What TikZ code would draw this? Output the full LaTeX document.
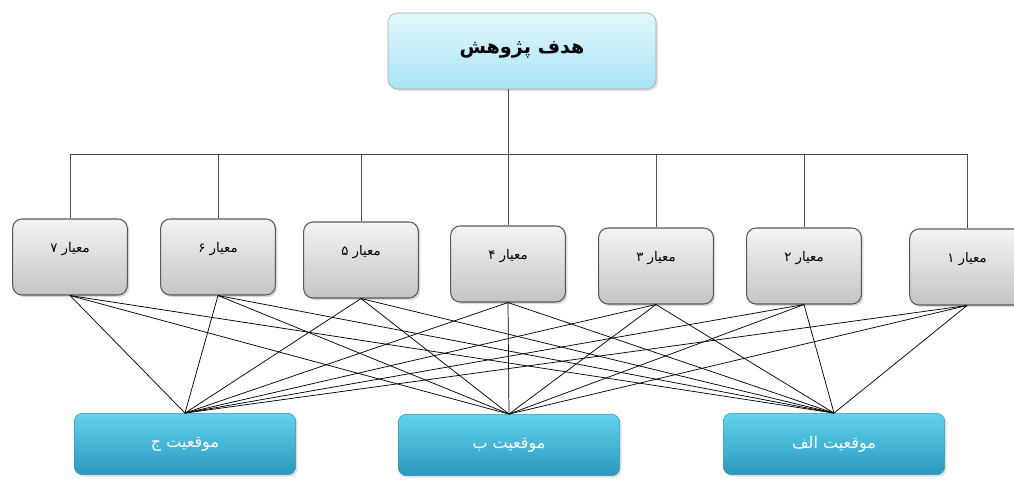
\documentclass[tikz,border=0pt]{standalone}
\usepackage{fontspec}
\newfontfamily\farsi[Script=Arabic]{DejaVu Sans}
\TeXXeTstate=1
\usetikzlibrary{shadows}
\definecolor{goalhi}{HTML}{E2F7FC}
\definecolor{goallo}{HTML}{A9E4F5}
\definecolor{crithi}{HTML}{F4F4F4}
\definecolor{critlo}{HTML}{C4C4C4}
\definecolor{opthi}{HTML}{62D3EE}
\definecolor{optlo}{HTML}{2A98BE}
\newcommand{\fatext}[1]{\farsi\beginR #1\endR}
\tikzset{
  goalbox/.style={draw=gray!70, rounded corners=7pt, top color=goalhi, bottom color=goallo,
    minimum width=201pt, minimum height=57pt, text height=12pt, text depth=8pt, font=\farsi\bfseries\Large,
    drop shadow={opacity=0.25, shadow xshift=1.5pt, shadow yshift=-1.5pt}},
  critbox/.style={draw=black!65, line width=0.8pt, rounded corners=7pt, top color=crithi, bottom color=critlo,
    minimum width=86pt, minimum height=57pt, text height=10pt, text depth=17pt, font=\farsi,
    drop shadow={opacity=0.3, shadow xshift=1.5pt, shadow yshift=-1.5pt}},
  optbox/.style={draw=optlo, rounded corners=6pt, top color=opthi, bottom color=optlo,
    minimum width=166pt, minimum height=46pt, text=white, font=\farsi\large,
    drop shadow={opacity=0.25, shadow xshift=1.5pt, shadow yshift=-1.5pt}},
  tree/.style={draw=black!70, line width=0.7pt},
  link/.style={draw=black, line width=0.55pt}
}
\begin{document}
\begin{tikzpicture}[x=0.75pt,y=0.75pt,yscale=-1,xscale=1]
    \useasboundingbox (0,0) rectangle (1014,485);

    % goal
    \node [goalbox] (goal) at (522,51) {\fatext{هدف پژوهش}};

    % criteria
    \node [critbox] (crit7) at (70,257) {\fatext{معیار ۷}};
    \node [critbox] (crit6) at (218,257) {\fatext{معیار ۶}};
    \node [critbox] (crit5) at (361,260) {\fatext{معیار ۵}};
    \node [critbox] (crit4) at (508,264) {\fatext{معیار ۴}};
    \node [critbox] (crit3) at (656,266) {\fatext{معیار ۳}};
    \node [critbox] (crit2) at (804,266) {\fatext{معیار ۲}};
    \node [critbox] (crit1) at (967,267) {\fatext{معیار ۱}};

    % options
    \node [optbox] (optC) at (185,444) {\fatext{موقعیت ج}};
    \node [optbox] (optB) at (509,445) {\fatext{موقعیت ب}};
    \node [optbox] (optA) at (834,444) {\fatext{موقعیت الف}};

    % tree from goal to criteria
    \coordinate (bus) at (0,154);
    \draw [tree] (goal.south -| crit4.north) -- (crit4.north);
    \draw [tree] (crit7.north) -- (crit7.north |- bus) -- (crit1.north |- bus) -- (crit1.north);
    \foreach \c in {crit6,crit5,crit3,crit2}
        \draw [tree] (\c.north |- bus) -- (\c.north);

    % links from every criterion to every option
    \foreach \c in {crit1,crit2,crit3,crit4,crit5,crit6,crit7}
        \foreach \o in {optA,optB,optC}
            \draw [link] (\c.south) -- (\o.north);
\end{tikzpicture}
\end{document}
